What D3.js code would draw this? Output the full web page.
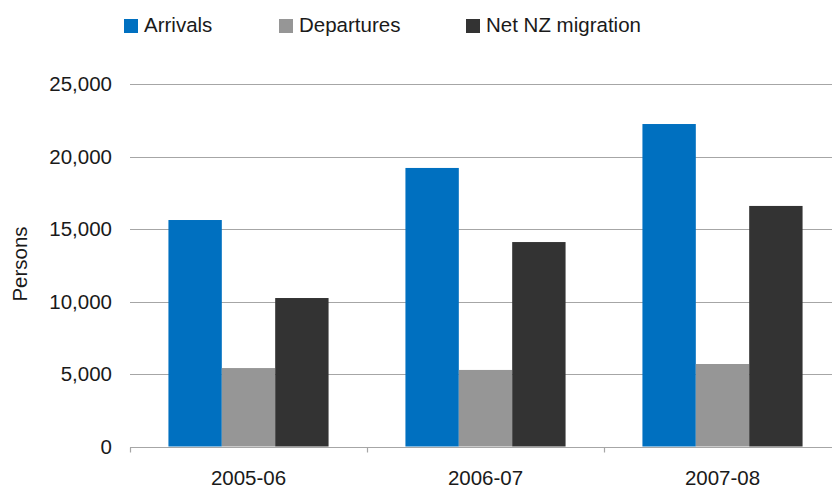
<!DOCTYPE html>
<html>
<head>
<meta charset="utf-8">
<script src="https://cdn.jsdelivr.net/npm/d3@7"></script>
<style>
  html, body { margin: 0; padding: 0; background: #fff; }
  svg { display: block; font-family: "Liberation Sans", Arial, sans-serif; }
</style>
</head>
<body>
<svg id="chart" width="832" height="491"></svg>
<script>
const categories = ["2005-06", "2006-07", "2007-08"];
const seriesNames = ["Arrivals", "Departures", "Net NZ migration"];
const arrivals = [15620, 19210, 22240];
const departures = [5410, 5280, 5690];
const netMigration = [10240, 14100, 16590];
const yTicks = [0, 5000, 10000, 15000, 20000, 25000];
const colors = ["#0070C0", "#969696", "#333333"];

(function () {
const seriesValues = [arrivals, departures, netMigration];
const rows = categories.map((c, i) => ({
  category: c,
  values: seriesNames.map((s, j) => ({ series: s, value: seriesValues[j][i], color: colors[j] }))
}));

const svg = d3.select("#chart");
const pLeft = 130, pRight = 841, pTop = 84, pBottom = 446.5;

const x0 = d3.scaleBand().domain(categories).range([pLeft, pRight]).padding(0);
const x1 = d3.scaleBand().domain(seriesNames).range([0, x0.bandwidth()]).paddingInner(0).paddingOuter(0.72);
const y = d3.scaleLinear().domain([0, 25000]).range([pBottom, pTop]);

// gridlines
svg.append("g").selectAll("line").data(yTicks.filter(d => d > 0)).join("line")
  .attr("x1", pLeft).attr("x2", 832)
  .attr("y1", d => Math.round(y(d)) + 0.5).attr("y2", d => Math.round(y(d)) + 0.5)
  .attr("stroke", "#a6a6a6").attr("stroke-width", 1.2);

// y tick labels
svg.append("g").selectAll("text").data(yTicks).join("text")
  .attr("x", 112).attr("y", d => y(d))
  .attr("dy", "0.35em")
  .attr("text-anchor", "end")
  .attr("font-size", 20.5).attr("fill", "#1a1a1a")
  .text(d => d3.format(",")(d));

// bars
const groups = svg.append("g").selectAll("g").data(rows).join("g")
  .attr("transform", d => `translate(${x0(d.category)},0)`);
groups.selectAll("rect").data(d => d.values).join("rect")
  .attr("x", d => x1(d.series))
  .attr("width", x1.bandwidth())
  .attr("y", d => y(d.value))
  .attr("height", d => y(0) - y(d.value))
  .attr("fill", d => d.color);

// x axis
const axG = svg.append("g").attr("transform", `translate(0,${Math.round(pBottom) + 0.5})`);
axG.append("line").attr("x1", pLeft).attr("x2", 832).attr("stroke", "#a6a6a6").attr("stroke-width", 1.2);
axG.selectAll("line.tick").data(categories).join("line")
  .attr("class", "tick")
  .attr("x1", d => Math.round(x0(d)) + 0.5).attr("x2", d => Math.round(x0(d)) + 0.5)
  .attr("y1", 0).attr("y2", 5)
  .attr("stroke", "#a6a6a6").attr("stroke-width", 1.2);
svg.append("g").selectAll("text").data(categories).join("text")
  .attr("x", d => x0(d) + x0.bandwidth() / 2)
  .attr("y", 485)
  .attr("text-anchor", "middle")
  .attr("font-size", 20.5).attr("fill", "#1a1a1a")
  .text(d => d);

// y axis title
svg.append("text")
  .attr("transform", "translate(27,264) rotate(-90)")
  .attr("text-anchor", "middle")
  .attr("font-size", 20.5).attr("fill", "#1a1a1a")
  .text("Persons");

// legend
const legendX = [124, 279, 466];
const leg = svg.append("g").selectAll("g").data(seriesNames).join("g")
  .attr("transform", (d, i) => `translate(${legendX[i]},0)`);
leg.append("rect").attr("x", 0).attr("y", 19).attr("width", 14).attr("height", 14)
  .attr("fill", (d, i) => colors[i]);
leg.append("text").attr("x", 20).attr("y", 32)
  .attr("font-size", 20.5).attr("fill", "#1a1a1a")
  .text(d => d);
})();
</script>
</body>
</html>
